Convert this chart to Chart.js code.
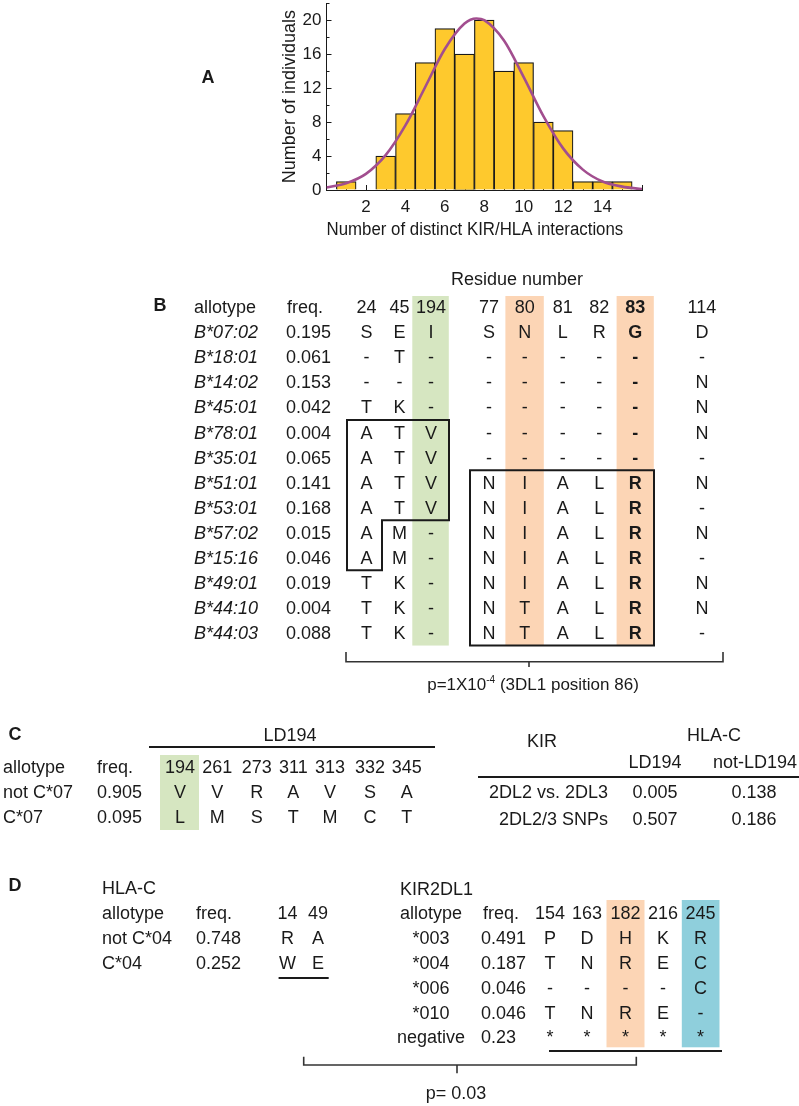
<!DOCTYPE html>
<html><head><meta charset="utf-8">
<script src="https://cdn.jsdelivr.net/npm/chart.js@4.4.1/dist/chart.umd.min.js"></script>
<style>
html,body{margin:0;padding:0;background:#fff;}
#page{position:relative;width:799px;height:1106px;overflow:hidden;font-family:"Liberation Sans",Arial,sans-serif;color:#1a1a1a;}
.t{position:absolute;white-space:nowrap;line-height:1;font-size:18px;}
#wrap{position:absolute;left:250px;top:0;}
svg{position:absolute;left:0;top:0;}
</style></head><body><div id="page"><div id="wrap"><canvas id="hist"></canvas></div></div>
<script>
// ---------- Panel A data ----------
const binCenters = [1,2,3,4,5,6,7,8,9,10,11,12,13,14,15];
const counts     = [1,0,4,9,15,19,16,20,14,15,8,7,1,1,1];
const fitX = [0,1,2,3,4,5,6,7,7.6,8,9,10,11,12,13,14,15,16];
const fitY = [0.3,0.8,1.9,4.1,7.6,12.1,16.6,19.6,20.2,20.0,17.6,13.3,8.7,4.9,2.4,1.0,0.4,0.1];
const xTickLabels = [2,4,6,8,10,12,14];
const yTickLabels = [0,4,8,12,16,20];
const xTitle = 'Number of distinct KIR/HLA interactions';
const yTitle = 'Number of individuals';

// ---------- Panel B data ----------
const bResidues = ['24','45','194','77','80','81','82','83','114'];
const bAllotypes = ['B*07:02','B*18:01','B*14:02','B*45:01','B*78:01','B*35:01','B*51:01','B*53:01','B*57:02','B*15:16','B*49:01','B*44:10','B*44:03'];
const bFreq = ['0.195','0.061','0.153','0.042','0.004','0.065','0.141','0.168','0.015','0.046','0.019','0.004','0.088'];
const bSeq = [
 ['S','E','I','S','N','L','R','G','D'],
 ['-','T','-','-','-','-','-','-','-'],
 ['-','-','-','-','-','-','-','-','N'],
 ['T','K','-','-','-','-','-','-','N'],
 ['A','T','V','-','-','-','-','-','N'],
 ['A','T','V','-','-','-','-','-','-'],
 ['A','T','V','N','I','A','L','R','N'],
 ['A','T','V','N','I','A','L','R','-'],
 ['A','M','-','N','I','A','L','R','N'],
 ['A','M','-','N','I','A','L','R','-'],
 ['T','K','-','N','I','A','L','R','N'],
 ['T','K','-','N','T','A','L','R','N'],
 ['T','K','-','N','T','A','L','R','-']
];
const bPText = ['p=1X10','-4',' (3DL1 position 86)'];

// ---------- Panel C data ----------
const cResidues = ['194','261','273','311','313','332','345'];
const cAllotypes = ['not C*07','C*07'];
const cFreq = ['0.905','0.095'];
const cSeq = [['V','V','R','A','V','S','A'],['L','M','S','T','M','C','T']];
const kirComparisons = ['2DL2 vs. 2DL3','2DL2/3 SNPs'];
const pLD194 = ['0.005','0.507'];
const pNotLD194 = ['0.138','0.186'];

// ---------- Panel D data ----------
const dHlaAllotypes = ['not C*04','C*04'];
const dHlaFreq = ['0.748','0.252'];
const dHlaResidues = ['14','49'];
const dHlaSeq = [['R','A'],['W','E']];
const dKirAllotypes = ['*003','*004','*006','*010','negative'];
const dKirFreq = ['0.491','0.187','0.046','0.046','0.23'];
const dKirResidues = ['154','163','182','216','245'];
const dKirSeq = [['P','D','H','K','R'],['T','N','R','E','C'],['-','-','-','-','C'],['T','N','R','E','-'],['*','*','*','*','*']];
const dPText = 'p= 0.03';

// ---------- helpers ----------
const FONT = '"Liberation Sans", Arial, sans-serif';
const INK = '#1a1a1a';
const page = document.getElementById('page');
const svgNS = 'http://www.w3.org/2000/svg';
const svg = document.createElementNS(svgNS,'svg');
svg.setAttribute('width','799'); svg.setAttribute('height','1106');
page.appendChild(svg);
function rect(x1,y1,x2,y2,fill){const r=document.createElementNS(svgNS,'rect');r.setAttribute('x',x1);r.setAttribute('y',y1);r.setAttribute('width',x2-x1);r.setAttribute('height',y2-y1);r.setAttribute('fill',fill);svg.appendChild(r);}
function path(pts,closed,w,col){const p=document.createElementNS(svgNS,closed?'polygon':'polyline');p.setAttribute('points',pts.map(q=>q.join(',')).join(' '));p.setAttribute('fill','none');p.setAttribute('stroke',col||INK);p.setAttribute('stroke-width',w||2);svg.appendChild(p);}
function txt(s,x,y,align,o){o=o||{};const d=document.createElement('div');d.className='t';d.textContent=s;d.style.left=x+'px';d.style.top=y+'px';const tx=align==='left'?'0':align==='right'?'-100%':'-50%';d.style.transform='translate('+tx+',-50%)';if(o.bold)d.style.fontWeight='bold';if(o.italic)d.style.fontStyle='italic';if(o.size)d.style.fontSize=o.size+'px';page.appendChild(d);return d;}

const GREEN='#d6e6c1', ORANGE='#fcd5b5', BLUE='#8fcfdc';

// ---------- Panel A chart ----------
Chart.defaults.font.family = FONT;
Chart.defaults.color = INK;
const inwardTicks = {
  id:'inwardTicks',
  beforeDatasetsDraw(chart){
    const c=chart.ctx, xs=chart.scales.x, ys=chart.scales.y;
    c.save(); c.strokeStyle=INK; c.lineWidth=1;
    const x0=xs.getPixelForValue(0), y0=ys.getPixelForValue(0);
    ys.ticks.forEach(t=>{ if(t.value<=0) return; const y=Math.round(ys.getPixelForValue(t.value))+0.5; const len=(t.value%4===0)?5:3; c.beginPath(); c.moveTo(x0,y); c.lineTo(x0+len,y); c.stroke();});
    xs.ticks.forEach(t=>{ if(t.value<=0) return; const x=Math.round(xs.getPixelForValue(t.value))+0.5; const len=(t.value%2===0)?5:3; c.beginPath(); c.moveTo(x,y0); c.lineTo(x,y0-len); c.stroke();});
    c.restore();
  }
};
const canvas = document.getElementById('hist');
canvas.width = 420; canvas.height = 245;
canvas.style.width='420px'; canvas.style.height='245px';
const chart = new Chart(canvas.getContext('2d'), {
  type:'bar',
  data:{datasets:[
    {type:'line', data: fitX.map((x,i)=>({x:x,y:fitY[i]})), borderColor:'#a24e8f', borderWidth:2.6, pointRadius:0, cubicInterpolationMode:'monotone', fill:false, order:1},
    {type:'bar', data: binCenters.map((x,i)=>({x:x,y:counts[i]})), backgroundColor:'#fec92d', borderColor:INK, borderWidth:1.2, barPercentage:1, categoryPercentage:1, order:2}
  ]},
  options:{
    responsive:false, maintainAspectRatio:false, animation:false, events:[],
    layout:{padding:{left:0,right:4,top:4,bottom:0}},
    plugins:{legend:{display:false}, tooltip:{enabled:false}},
    scales:{
      x:{type:'linear', min:0, max:16, offset:false,
         grid:{drawOnChartArea:false, drawTicks:false},
         border:{display:true, color:INK, width:1},
         ticks:{stepSize:1, autoSkip:false, maxRotation:0, padding:7, font:{size:17}, color:INK,
                callback:(v)=> xTickLabels.includes(v) ? String(v) : ''},
         title:{display:true, text:xTitle+'    ', font:{size:18}, color:INK, padding:{top:-5,bottom:0}}},
      y:{min:0, max:22,
         grid:{drawOnChartArea:false, drawTicks:false},
         border:{display:true, color:INK, width:1},
         ticks:{stepSize:2, autoSkip:false, padding:5, font:{size:17}, color:INK,
                callback:(v)=> yTickLabels.includes(v) ? String(v) : ''},
         title:{display:true, text:yTitle, font:{size:18}, color:INK, padding:{top:0,bottom:-3}}}
    }
  },
  plugins:[inwardTicks]
});
(function place(){
  const wrap=document.getElementById('wrap');
  const L=327, R=642, T=3.5, B=190.5;
  for(let k=0;k<3;k++){
    const ca=chart.chartArea;
    const W=chart.width+((R-L)-(ca.right-ca.left)), H=chart.height+((B-T)-(ca.bottom-ca.top));
    chart.resize(Math.round(W),Math.round(H));
  }
  const ca=chart.chartArea;
  wrap.style.left=(L-ca.left)+'px';
  wrap.style.top=(T-ca.top)+'px';
})();
txt('A',208,77,'center',{bold:true});

// ---------- Panel B ----------
const bColX=[366.4,399.4,431,489,524.8,562.8,599.3,635.2,701.9];
const bHeadY=307.3, bRow0=332.3, bStep=25.06;
const bRowY=i=>bRow0+i*bStep;
const bBandBottom=bRow0+12.5*bStep;
rect(412.3,296,448.8,bBandBottom,GREEN);
rect(505.4,296,543.8,bBandBottom,ORANGE);
rect(616.6,296,653.8,bBandBottom,ORANGE);
txt('B',160,305,'center',{bold:true});
txt('Residue number',517,279,'center');
txt('allotype',194,bHeadY,'left');
txt('freq.',287,bHeadY,'left');
bResidues.forEach((r,j)=>txt(r,bColX[j],bHeadY,'center',{bold:r==='83'}));
bAllotypes.forEach((a,i)=>{
  txt(a,194,bRowY(i),'left',{italic:true});
  txt(bFreq[i],286,bRowY(i),'left');
  bSeq[i].forEach((s,j)=>txt(s,bColX[j],bRowY(i),'center',{bold:bResidues[j]==='83'}));
});
// boxes
const yb=k=>bRow0+k*bStep;
path([[347,yb(3.5)],[449,yb(3.5)],[449,yb(7.5)],[382,yb(7.5)],[382,yb(9.5)],[347,yb(9.5)]],true,2);
path([[470,yb(5.5)],[654,yb(5.5)],[654,yb(12.5)],[470,yb(12.5)]],true,2);
// bracket
path([[346,652],[346,661.7],[723,661.7],[723,652]],false,1.6,'#333');
path([[529,661.7],[529,667]],false,1.6,'#333');
(function(){const d=txt('',533,684,'center',{size:17});
  d.appendChild(document.createTextNode(bPText[0]));
  const s=document.createElement('span');s.textContent=bPText[1];s.style.fontSize='10px';s.style.position='relative';s.style.top='-7px';d.appendChild(s);
  d.appendChild(document.createTextNode(bPText[2]));})();

// ---------- Panel C ----------
const cColX=[180,217.3,256.7,293.3,330,370,406.7];
const cHeadY=767, cRowY=[792,817];
rect(160,755,199,830,GREEN);
txt('C',15,734,'center',{bold:true});
txt('LD194',290,735,'center');
path([[149,747],[435,747]],false,2);
txt('allotype',3,cHeadY,'left');
txt('freq.',97,cHeadY,'left');
cResidues.forEach((r,j)=>txt(r,cColX[j],cHeadY,'center'));
cAllotypes.forEach((a,i)=>{
  txt(a,3,cRowY[i],'left');
  txt(cFreq[i],97,cRowY[i],'left');
  cSeq[i].forEach((s,j)=>txt(s,cColX[j],cRowY[i],'center'));
});
txt('KIR',542,741,'center');
txt('HLA-C',714,735,'center');
txt('LD194',655,762,'center');
txt('not-LD194',755,762,'center');
path([[478,777],[799,777]],false,2);
kirComparisons.forEach((k,i)=>{
  const y=[792,819][i];
  txt(k,608,y,'right');
  txt(pLD194[i],655,y,'center');
  txt(pNotLD194[i],754,y,'center');
});

// ---------- Panel D ----------
txt('D',15,885,'center',{bold:true});
txt('HLA-C',102,888,'left');
const dHeadY=913, dRow0=938.3, dStep=24.75;
const dRowY=i=>dRow0+i*dStep;
txt('allotype',102,dHeadY,'left');
txt('freq.',196,dHeadY,'left');
const dHlaX=[287.5,318];
dHlaResidues.forEach((r,j)=>txt(r,dHlaX[j],dHeadY,'center'));
dHlaAllotypes.forEach((a,i)=>{
  txt(a,102,dRowY(i),'left');
  txt(dHlaFreq[i],196,dRowY(i),'left');
  dHlaSeq[i].forEach((s,j)=>txt(s,dHlaX[j],dRowY(i),'center'));
});
path([[278.6,978],[328.7,978]],false,2);

const dKirX=[550,587,625.5,663,700.5];
rect(606.5,900,644.5,1047.3,ORANGE);
rect(681.8,900,719.5,1047.3,BLUE);
txt('KIR2DL1',400,889,'left');
txt('allotype',400,dHeadY,'left');
txt('freq.',483,dHeadY,'left');
dKirResidues.forEach((r,j)=>txt(r,dKirX[j],dHeadY,'center'));
dKirAllotypes.forEach((a,i)=>{
  txt(a,431,dRowY(i),'center');
  txt(dKirFreq[i],481,dRowY(i),'left');
  dKirSeq[i].forEach((s,j)=>txt(s,dKirX[j],dRowY(i),'center'));
});
path([[549,1051],[722,1051]],false,2);
path([[303.7,1056.7],[303.7,1065],[636.3,1065],[636.3,1056.7]],false,1.6,'#333');
path([[457,1065],[457,1073.3]],false,1.6,'#333');
txt(dPText,456,1093,'center');
</script></body></html>
